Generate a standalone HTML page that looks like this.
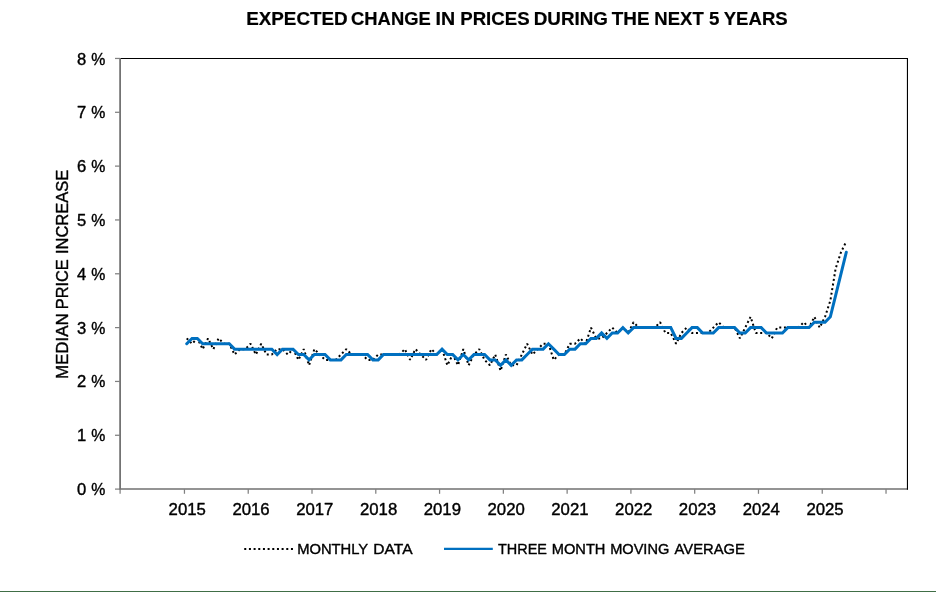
<!DOCTYPE html>
<html><head><meta charset="utf-8"><title>Expected change in prices</title>
<style>
html,body{margin:0;padding:0;background:#fff;}
body{width:936px;height:592px;overflow:hidden;position:relative;}
svg{position:absolute;left:0;top:0;display:block;will-change:transform;}
text{font-family:"Liberation Sans",sans-serif;fill:#000;stroke:#000;stroke-width:0.4px;stroke-linejoin:round;}
.t{font-size:18.8px;font-weight:bold;stroke-width:0.2px;}
.l{font-size:16.75px;}
.l2{font-size:16.6px;}
.g{font-size:15.2px;}
.a{font-size:16.6px;}
</style></head><body>
<svg width="936" height="592" viewBox="0 0 936 592">
<rect x="0" y="0" width="936" height="592" fill="#ffffff"/>
<rect x="0" y="591" width="936" height="1" fill="#406e46"/>
<text class="t" x="246.21" y="25.3" textLength="101.42" lengthAdjust="spacingAndGlyphs">EXPECTED</text>
<text class="t" x="351.08" y="25.3" textLength="79.65" lengthAdjust="spacingAndGlyphs">CHANGE</text>
<text class="t" x="435.45" y="25.3" textLength="19.63" lengthAdjust="spacingAndGlyphs">IN</text>
<text class="t" x="460.22" y="25.3" textLength="69.40" lengthAdjust="spacingAndGlyphs">PRICES</text>
<text class="t" x="533.81" y="25.3" textLength="74.16" lengthAdjust="spacingAndGlyphs">DURING</text>
<text class="t" x="611.80" y="25.3" textLength="37.74" lengthAdjust="spacingAndGlyphs">THE</text>
<text class="t" x="654.33" y="25.3" textLength="49.39" lengthAdjust="spacingAndGlyphs">NEXT</text>
<text class="t" x="709.06" y="25.3" textLength="10.40" lengthAdjust="spacingAndGlyphs">5</text>
<text class="t" x="723.74" y="25.3" textLength="63.98" lengthAdjust="spacingAndGlyphs">YEARS</text>
<path d="M120.1 57.949999999999996 V489.8" stroke="#686868" stroke-width="1.65" fill="none"/>
<path d="M119.3 489.1 H907.75" stroke="#707070" stroke-width="1.5" fill="none"/>
<g stroke="#808080" stroke-width="1.25" fill="none">
<path d="M115.0 489.10 H120.1"/>
<path d="M115.0 435.27 H120.1"/>
<path d="M115.0 381.44 H120.1"/>
<path d="M115.0 327.61 H120.1"/>
<path d="M115.0 273.78 H120.1"/>
<path d="M115.0 219.95 H120.1"/>
<path d="M115.0 166.12 H120.1"/>
<path d="M115.0 112.29 H120.1"/>
<path d="M115.0 58.46 H120.1"/>
<path d="M120.10 489.1 V493.8"/>
<path d="M184.45 489.1 V493.8"/>
<path d="M248.23 489.1 V493.8"/>
<path d="M312.01 489.1 V493.8"/>
<path d="M375.79 489.1 V493.8"/>
<path d="M439.57 489.1 V493.8"/>
<path d="M503.35 489.1 V493.8"/>
<path d="M567.13 489.1 V493.8"/>
<path d="M630.91 489.1 V493.8"/>
<path d="M694.69 489.1 V493.8"/>
<path d="M758.47 489.1 V493.8"/>
<path d="M822.25 489.1 V493.8"/>
<path d="M886.03 489.1 V493.8"/>
</g>
<path d="M120.89999999999999 58.55 H907.45 V489.85" fill="none" stroke="#000" stroke-width="1.1"/>
<text class="l2" x="86.35" y="495.15" text-anchor="end">0</text><text class="l2" x="105.25" y="495.15" text-anchor="end" textLength="14.1" lengthAdjust="spacingAndGlyphs">%</text>
<text class="l2" x="86.35" y="441.32" text-anchor="end">1</text><text class="l2" x="105.25" y="441.32" text-anchor="end" textLength="14.1" lengthAdjust="spacingAndGlyphs">%</text>
<text class="l2" x="86.35" y="387.49" text-anchor="end">2</text><text class="l2" x="105.25" y="387.49" text-anchor="end" textLength="14.1" lengthAdjust="spacingAndGlyphs">%</text>
<text class="l2" x="86.35" y="333.66" text-anchor="end">3</text><text class="l2" x="105.25" y="333.66" text-anchor="end" textLength="14.1" lengthAdjust="spacingAndGlyphs">%</text>
<text class="l2" x="86.35" y="279.83" text-anchor="end">4</text><text class="l2" x="105.25" y="279.83" text-anchor="end" textLength="14.1" lengthAdjust="spacingAndGlyphs">%</text>
<text class="l2" x="86.35" y="226.00" text-anchor="end">5</text><text class="l2" x="105.25" y="226.00" text-anchor="end" textLength="14.1" lengthAdjust="spacingAndGlyphs">%</text>
<text class="l2" x="86.35" y="172.17" text-anchor="end">6</text><text class="l2" x="105.25" y="172.17" text-anchor="end" textLength="14.1" lengthAdjust="spacingAndGlyphs">%</text>
<text class="l2" x="86.35" y="118.34" text-anchor="end">7</text><text class="l2" x="105.25" y="118.34" text-anchor="end" textLength="14.1" lengthAdjust="spacingAndGlyphs">%</text>
<text class="l2" x="86.35" y="64.51" text-anchor="end">8</text><text class="l2" x="105.25" y="64.51" text-anchor="end" textLength="14.1" lengthAdjust="spacingAndGlyphs">%</text>
<text class="l" x="187.25" y="515.2" text-anchor="middle">2015</text>
<text class="l" x="251.03" y="515.2" text-anchor="middle">2016</text>
<text class="l" x="314.81" y="515.2" text-anchor="middle">2017</text>
<text class="l" x="378.59" y="515.2" text-anchor="middle">2018</text>
<text class="l" x="442.37" y="515.2" text-anchor="middle">2019</text>
<text class="l" x="506.15" y="515.2" text-anchor="middle">2020</text>
<text class="l" x="569.93" y="515.2" text-anchor="middle">2021</text>
<text class="l" x="633.71" y="515.2" text-anchor="middle">2022</text>
<text class="l" x="697.49" y="515.2" text-anchor="middle">2023</text>
<text class="l" x="761.27" y="515.2" text-anchor="middle">2024</text>
<text class="l" x="825.05" y="515.2" text-anchor="middle">2025</text>
<g transform="translate(67.7,0) rotate(-90)">
<text class="a" x="-379.01" y="0" textLength="65.76" lengthAdjust="spacingAndGlyphs">MEDIAN</text>
<text class="a" x="-309.27" y="0" textLength="50.01" lengthAdjust="spacingAndGlyphs">PRICE</text>
<text class="a" x="-254.08" y="0" textLength="84.34" lengthAdjust="spacingAndGlyphs">INCREASE</text>
</g>
<polyline points="186.73,338.38 192.05,343.76 197.37,338.38 202.69,349.14 208.01,338.38 213.32,349.14 218.64,338.38 223.96,343.76 229.28,343.76 234.60,354.53 239.92,349.14 245.24,349.14 250.56,343.76 255.88,354.53 261.20,343.76 266.51,354.53 271.83,354.53 277.15,349.14 282.47,349.14 287.79,354.53 293.11,349.14 298.43,359.91 303.75,349.14 309.07,365.29 314.39,349.14 319.70,354.53 325.02,359.91 330.34,359.91 335.66,359.91 340.98,354.53 346.30,349.14 351.62,354.53 356.94,354.53 362.26,354.53 367.58,359.91 372.89,359.91 378.21,354.53 383.53,354.53 388.85,354.53 394.17,354.53 399.49,354.53 404.81,349.14 410.13,359.91 415.45,349.14 420.77,354.53 426.08,359.91 431.40,349.14 436.72,354.53 442.04,349.14 447.36,365.29 452.68,354.53 458.00,365.29 463.32,349.14 468.64,365.29 473.96,354.53 479.27,349.14 484.59,359.91 489.91,365.29 495.23,354.53 500.55,370.67 505.87,354.53 511.19,365.29 516.51,365.29 521.83,354.53 527.15,343.76 532.47,354.53 537.78,349.14 543.10,343.76 548.42,343.76 553.74,359.91 559.06,354.53 564.38,354.53 569.70,343.76 575.02,343.76 580.34,338.38 585.65,343.76 590.97,327.61 596.29,338.38 601.61,338.38 606.93,332.99 612.25,327.61 617.57,332.99 622.89,327.61 628.21,332.99 633.53,322.23 638.85,327.61 644.16,327.61 649.48,327.61 654.80,327.61 660.12,322.23 665.44,332.99 670.76,332.99 676.08,343.76 681.40,332.99 686.72,327.61 692.03,332.99 697.35,332.99 702.67,332.99 707.99,332.99 713.31,327.61 718.63,322.23 723.95,327.61 729.27,327.61 734.59,327.61 739.91,338.38 745.23,327.61 750.54,316.84 755.86,332.99 761.18,332.99 766.50,332.99 771.82,338.38 777.14,327.61 782.46,327.61 787.78,327.61 793.10,327.61 798.41,327.61 803.73,322.23 809.05,327.61 814.37,316.84 819.69,327.61 825.01,316.84 830.33,300.70 835.65,268.40 840.97,252.25 846.29,241.48" fill="none" stroke="#000" stroke-width="2" stroke-dasharray="2 2.67" stroke-linejoin="bevel"/>
<polyline points="186.73,343.76 192.05,338.38 197.37,338.38 202.69,343.76 208.01,343.76 213.32,343.76 218.64,343.76 223.96,343.76 229.28,343.76 234.60,349.14 239.92,349.14 245.24,349.14 250.56,349.14 255.88,349.14 261.20,349.14 266.51,349.14 271.83,349.14 277.15,354.53 282.47,349.14 287.79,349.14 293.11,349.14 298.43,354.53 303.75,354.53 309.07,359.91 314.39,354.53 319.70,354.53 325.02,354.53 330.34,359.91 335.66,359.91 340.98,359.91 346.30,354.53 351.62,354.53 356.94,354.53 362.26,354.53 367.58,354.53 372.89,359.91 378.21,359.91 383.53,354.53 388.85,354.53 394.17,354.53 399.49,354.53 404.81,354.53 410.13,354.53 415.45,354.53 420.77,354.53 426.08,354.53 431.40,354.53 436.72,354.53 442.04,349.14 447.36,354.53 452.68,354.53 458.00,359.91 463.32,354.53 468.64,359.91 473.96,354.53 479.27,354.53 484.59,354.53 489.91,359.91 495.23,359.91 500.55,365.29 505.87,359.91 511.19,365.29 516.51,359.91 521.83,359.91 527.15,354.53 532.47,349.14 537.78,349.14 543.10,349.14 548.42,343.76 553.74,349.14 559.06,354.53 564.38,354.53 569.70,349.14 575.02,349.14 580.34,343.76 585.65,343.76 590.97,338.38 596.29,338.38 601.61,332.99 606.93,338.38 612.25,332.99 617.57,332.99 622.89,327.61 628.21,332.99 633.53,327.61 638.85,327.61 644.16,327.61 649.48,327.61 654.80,327.61 660.12,327.61 665.44,327.61 670.76,327.61 676.08,338.38 681.40,338.38 686.72,332.99 692.03,327.61 697.35,327.61 702.67,332.99 707.99,332.99 713.31,332.99 718.63,327.61 723.95,327.61 729.27,327.61 734.59,327.61 739.91,332.99 745.23,332.99 750.54,327.61 755.86,327.61 761.18,327.61 766.50,332.99 771.82,332.99 777.14,332.99 782.46,332.99 787.78,327.61 793.10,327.61 798.41,327.61 803.73,327.61 809.05,327.61 814.37,322.23 819.69,322.23 825.01,322.23 830.33,316.84 835.65,295.31 840.97,273.78 846.29,252.25" fill="none" stroke="#0070c0" stroke-width="3" stroke-linejoin="miter" stroke-linecap="round"/>
<path d="M244.25 548.95 H293" stroke="#000" stroke-width="2" stroke-dasharray="2 2.67" fill="none"/>
<path d="M444.0 548.85 H492.8" stroke="#0070c0" stroke-width="2.4" fill="none"/>
<text class="g" x="297.14" y="553.5" textLength="71.07" lengthAdjust="spacingAndGlyphs">MONTHLY</text>
<text class="g" x="373.38" y="553.5" textLength="39.22" lengthAdjust="spacingAndGlyphs">DATA</text>
<text class="g" x="498.03" y="553.5" textLength="48.86" lengthAdjust="spacingAndGlyphs">THREE</text>
<text class="g" x="551.75" y="553.5" textLength="53.70" lengthAdjust="spacingAndGlyphs">MONTH</text>
<text class="g" x="610.15" y="553.5" textLength="59.17" lengthAdjust="spacingAndGlyphs">MOVING</text>
<text class="g" x="674.50" y="553.5" textLength="70.43" lengthAdjust="spacingAndGlyphs">AVERAGE</text>
</svg></body></html>
